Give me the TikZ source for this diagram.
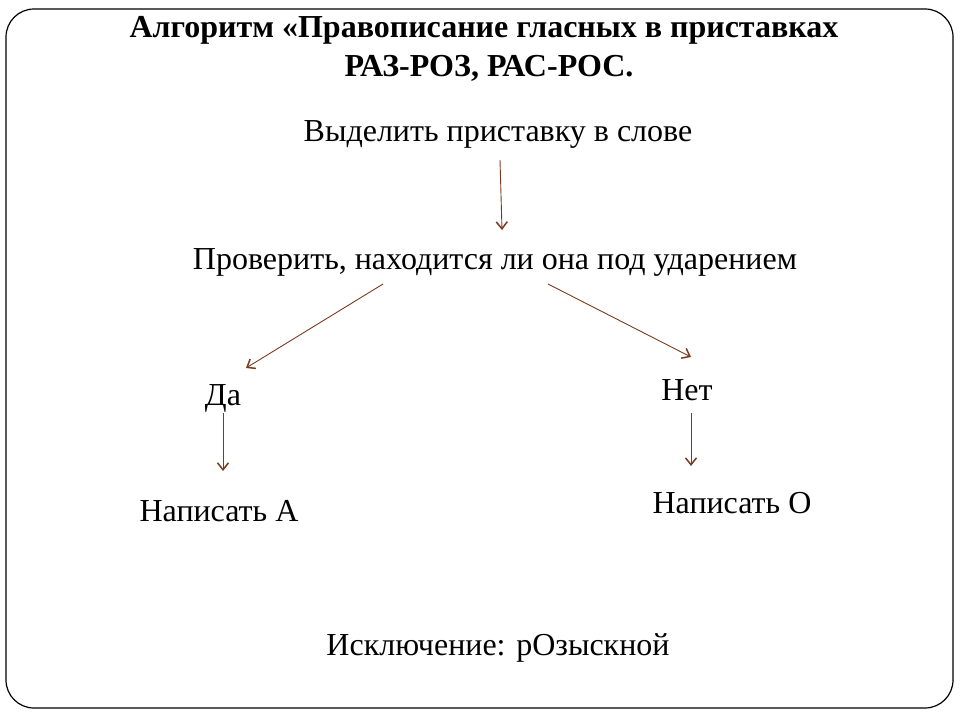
\documentclass[tikz,border=0pt]{standalone}
\usepackage{fontspec}
\setmainfont{Liberation Serif}
\usetikzlibrary{arrows.meta}
\definecolor{arr}{HTML}{7A3B1E}
\tikzset{
  lbl/.style={font=\fontsize{32}{36}\selectfont, inner sep=0pt, anchor=center},
  ttl/.style={font=\bfseries\fontsize{32}{36}\selectfont, inner sep=0pt, anchor=center},
  conn/.style={draw=arr, line width=0.9pt, -{Straight Barb[length=7pt,width=11pt,line width=1.5pt]}}
}
\begin{document}
\begin{tikzpicture}[x=1pt,y=-1pt]
\useasboundingbox (0,0) rectangle (960,720);
\draw[line width=1.2pt, rounded corners=28pt] (6,9) rectangle (953,708);
\node[ttl] (t1) at (484,30) {Алгоритм «Правописание гласных в приставках};
\node[ttl] (t2) at (489,68) {РАЗ-РОЗ, РАС-РОС.};
\node[lbl] (s1) at (498,134) {Выделить приставку в слове};
\node[lbl] (s2) at (495,262) {Проверить, находится ли она под ударением};
\node[lbl] (da) at (223,398) {Да};
\node[lbl] (net) at (687,390) {Нет};
\node[lbl] (wa) at (219,511) {Написать А};
\node[lbl] (wo) at (732,503) {Написать О};
\node[lbl] (ex) at (498,648) {Исключение: рОзыскной};
\coordinate (a1s) at (500,160); \coordinate (a1e) at (502,230);
\coordinate (a2s) at (383,284); \coordinate (a2e) at (246,368);
\coordinate (a3s) at (548,284); \coordinate (a3e) at (691,357);
\coordinate (a4s) at (223,413); \coordinate (a4e) at (223,471);
\coordinate (a5s) at (691,413); \coordinate (a5e) at (691,466);
\draw[conn] (a1s) -- (a1e);
\draw[conn] (a2s) -- (a2e);
\draw[conn] (a3s) -- (a3e);
\draw[conn] (a4s) -- (a4e);
\draw[conn] (a5s) -- (a5e);
\end{tikzpicture}
\end{document}
